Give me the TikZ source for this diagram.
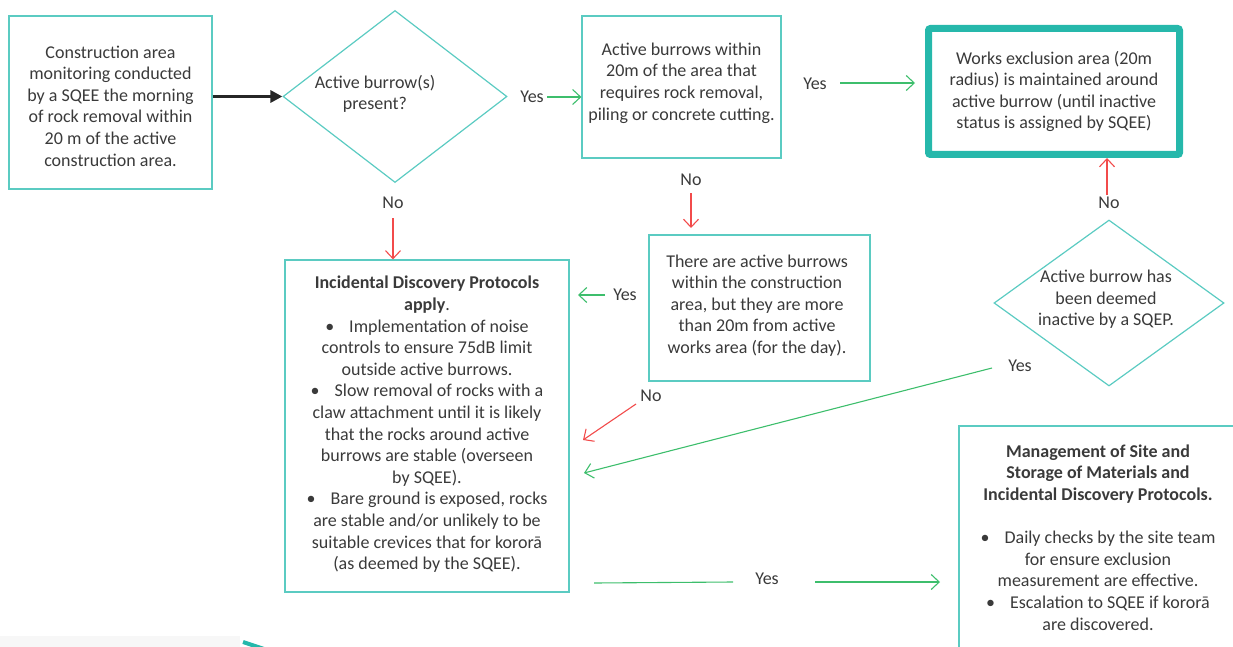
\documentclass[tikz,border=0pt]{standalone}
\usepackage{fontspec}
\setmainfont{Carlito}
\usetikzlibrary{shapes.geometric,arrows.meta}
\definecolor{tealthin}{HTML}{5BCBC2}
\definecolor{tealthick}{HTML}{26B8AB}
\definecolor{arrgreen}{HTML}{3DBE6C}
\definecolor{arrred}{HTML}{F24B4B}
\definecolor{txt}{HTML}{3A3A3A}
\newcommand{\diafont}{\fontsize{18}{21.6}\selectfont}
\newcommand{\bul}{\textbullet\hspace{15pt}}
\begin{document}
\begin{tikzpicture}[x=1pt,y=-1pt,
  box/.style={draw=tealthin, line width=1.2pt, align=center, text=txt, inner sep=0pt, font=\diafont},
  thickbox/.style={draw=tealthick, line width=7pt, rounded corners=2pt, align=center, text=txt, inner sep=0pt, font=\diafont},
  dia/.style={draw=tealthin, line width=1.2pt, diamond, inner sep=0pt},
  txtnode/.style={align=center, text=txt, inner sep=1pt, font=\diafont},
  lab/.style={text=txt, inner sep=1pt, font=\diafont},
  garrow/.style={draw=arrgreen, line width=1.1pt, -{Straight Barb[length=8pt,width=15pt]}},
  gline/.style={draw=arrgreen, line width=1.1pt},
  rarrow/.style={draw=arrred, line width=1.1pt, -{Straight Barb[length=8pt,width=15pt]}},
  barrow/.style={draw=black!85, line width=3pt, -{Triangle[length=12pt,width=12pt]}}
]
\useasboundingbox (0,0) rectangle (1233,647);
\fill[black!3] (0,636) rectangle (240,647);
\draw[tealthick, line width=4pt] (243,642) -- (264,649);

% boxes
\node[box, minimum width=203pt, minimum height=173pt] (b1) at (110.5,102.5) {};
\node[txtnode] (b1t) at (110.5,106) {Construction area\\monitoring conducted\\by a SQEE the morning\\of rock removal within\\20 m of the active\\construction area.};

\node[dia, minimum width=224pt, minimum height=172pt] (d1) at (395,96.5) {};
\node[txtnode] (d1t) at (375,94) {Active burrow(s)\\present?};

\node[box, minimum width=199pt, minimum height=142pt] (b2) at (681.5,87) {};
\node[txtnode] (b2t) at (681.5,83) {Active burrows within\\20m of the area that\\requires rock removal,\\piling or concrete cutting.};

\node[thickbox, minimum width=251pt, minimum height=126pt] (b3) at (1054,91.5) {Works exclusion area (20m\\radius) is maintained around\\active burrow (until inactive\\status is assigned by SQEE)};

\node[box, minimum width=221pt, minimum height=146pt] (b4) at (759.5,308) {};
\node[txtnode] (b4t) at (757,305.5) {There are active burrows\\within the construction\\area, but they are more\\than 20m from active\\works area (for the day).};

\node[box, minimum width=284pt, minimum height=332pt] (b5) at (427,426) {};
\node[txtnode] (b5t) at (427,424.5) {\textbf{Incidental Discovery Protocols}\\\textbf{apply}.\\
\bul Implementation of noise\\controls to ensure 75dB limit\\outside active burrows.\\
\bul Slow removal of rocks with a\\claw attachment until it is likely\\that the rocks around active\\burrows are stable (overseen\\by SQEE).\\
\bul Bare ground is exposed, rocks\\are stable and/or unlikely to be\\suitable crevices that for kororā\\(as deemed by the SQEE).};

\node[dia, minimum width=230pt, minimum height=166pt] (d2) at (1109,303) {};
\node[txtnode] (d2t) at (1106,299.5) {Active burrow has\\been deemed\\inactive by a SQEP.};

\node[box, minimum width=278pt, minimum height=260pt] (b6) at (1098,556) {};
\node[txtnode] (b6t) at (1098,537.5) {\textbf{Management of Site and}\\\textbf{Storage of Materials and}\\\textbf{Incidental Discovery Protocols.}\\[21.6pt]
\bul Daily checks by the site team\\for ensure exclusion\\measurement are effective.\\
\bul Escalation to SQEE if kororā\\are discovered.};

% labels
\node[lab] (y1) at (532,97) {Yes};
\node[lab] (y2) at (815,84) {Yes};
\node[lab] (y3) at (625,295) {Yes};
\node[lab] (y4) at (1020,366) {Yes};
\node[lab] (y5) at (767,579) {Yes};
\node[lab] (n1) at (393,203) {No};
\node[lab] (n2) at (691,180) {No};
\node[lab] (n3) at (651,396) {No};
\node[lab] (n4) at (1109,203) {No};

% free-end coordinates
\coordinate (y1s) at (547,97);
\coordinate (y2s) at (840,83);
\coordinate (y2e) at (915,83);
\coordinate (n1s) at (393,218);
\coordinate (n2s) at (691,193);
\coordinate (n2e) at (691,228);
\coordinate (y3s) at (605,295);
\coordinate (y3e) at (578,295);
\coordinate (n3s) at (636,404);
\coordinate (n3e) at (583,440);
\coordinate (n4s) at (1107,195);
\coordinate (y4s) at (992,368);
\coordinate (y4e) at (584,473);
\coordinate (y5a) at (594,583);
\coordinate (y5b) at (733,582);
\coordinate (y5c) at (815,582);
\coordinate (y5d) at (940,582);

% connectors
\draw[barrow] (b1.east |- d1.west) -- (d1.west);
\draw[garrow] (y1s) -- (b2.west |- y1s);
\draw[garrow] (y2s) -- (y2e);
\draw[rarrow] (n1s) -- (n1s |- b5.north);
\draw[rarrow] (n2s) -- (n2e);
\draw[garrow] (y3s) -- (y3e);
\draw[rarrow] (n3s) -- (n3e);
\draw[rarrow] (n4s) -- (n4s |- b3.south);
\draw[garrow] (y4s) -- (y4e);
\draw[gline] (y5a) -- (y5b);
\draw[garrow] (y5c) -- (y5d);
\end{tikzpicture}
\end{document}
